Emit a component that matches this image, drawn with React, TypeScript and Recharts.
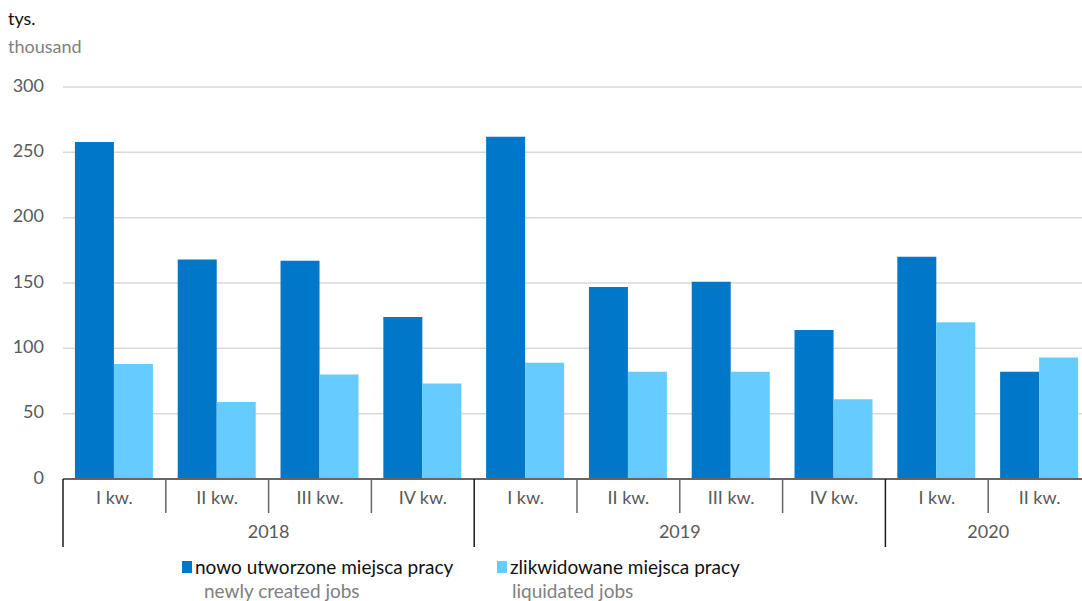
import React from "react";
import { BarChart, Bar, XAxis, YAxis, CartesianGrid } from "recharts";

const quarters = ["I kw.", "II kw.", "III kw.", "IV kw.", "I kw.", "II kw.", "III kw.", "IV kw.", "I kw.", "II kw."];
const years = ["2018", "2018", "2018", "2018", "2019", "2019", "2019", "2019", "2020", "2020"];
const created = [258, 168, 167, 124, 262, 147, 151, 114, 170, 82];
const liquidated = [88, 59, 80, 73, 89, 82, 82, 61, 120, 93];
const yTicks = [0, 50, 100, 150, 200, 250, 300];
const yearLabels = [
  { index: 1, label: "2018" },
  { index: 5, label: "2019" },
  { index: 8, label: "2020" },
];
const yearStarts = [0, 4, 8];

const data = quarters.map((q, i) => ({
  q,
  year: years[i],
  created: created[i],
  liquidated: liquidated[i],
}));

const FONT = "Lato, 'Open Sans', sans-serif";
const DARK = "#0077c8";
const LIGHT = "#66ccff";

const QuarterTick = (props: any) => {
  const { x, y, payload, index } = props;
  const half = payload && payload.offset ? payload.offset : 51.4;
  const idx = payload && typeof payload.index === "number" ? payload.index : index;
  const left = x - half;
  const isYear = yearStarts.includes(idx);
  const yl = yearLabels.find((l) => l.index === idx);
  return (
    <g>
      <line
        x1={left}
        x2={left}
        y1={y}
        y2={y + (isYear ? 68 : 34)}
        stroke={isYear ? "#1a1a1a" : "#666"}
        strokeWidth={1.5}
      />
      <text x={x} y={y + 20} textAnchor="middle" dominantBaseline="middle" fontSize={18} fill="#595959" fontFamily={FONT}>
        {payload.value}
      </text>
      {yl && (
        <text x={x + half} y={y + 54} textAnchor="middle" dominantBaseline="middle" fontSize={18} fill="#595959" fontFamily={FONT}>
          {yl.label}
        </text>
      )}
    </g>
  );
};

const YTick = (props: any) => {
  const { y, payload } = props;
  return (
    <text x={44} y={y} textAnchor="end" dominantBaseline="middle" fontSize={18} fill="#595959" fontFamily={FONT}>
      {payload.value}
    </text>
  );
};

export default function App() {
  return (
    <div style={{ position: "absolute", left: 0, top: 0, width: 1082, height: 601, overflow: "hidden", background: "#fff", fontFamily: FONT }}>
      <div style={{ position: "absolute", left: 8, top: 7, fontSize: 18, color: "#111", lineHeight: "22px" }}>tys.</div>
      <div style={{ position: "absolute", left: 8, top: 35, fontSize: 18, color: "#7f7f7f", lineHeight: "22px" }}>thousand</div>
      <BarChart
        width={1091}
        height={601}
        data={data}
        margin={{ top: 87, right: 0, left: 0, bottom: 0 }}
        barCategoryGap="11.6%"
        barGap={0}
      >
        <CartesianGrid horizontal={true} vertical={false} stroke="#d9d9d9" strokeWidth={1.5} />
        <YAxis
          width={63}
          domain={[0, 300]}
          ticks={yTicks}
          axisLine={false}
          tickLine={false}
          tick={<YTick />}
          interval={0}
        />
        <XAxis
          dataKey="q"
          height={122}
          interval={0}
          tickLine={false}
          tickSize={0}
          tickMargin={0}
          axisLine={{ stroke: "#666", strokeWidth: 2 }}
          tick={<QuarterTick />}
        />
        <Bar dataKey="created" fill={DARK} isAnimationActive={false} />
        <Bar dataKey="liquidated" fill={LIGHT} isAnimationActive={false} />
      </BarChart>
      <div style={{ position: "absolute", left: 182, top: 555, fontSize: 19, lineHeight: "24px" }}>
        <div style={{ display: "flex", alignItems: "center", color: "#111" }}>
          <span style={{ display: "inline-block", width: 10, height: 12, background: DARK, marginRight: 3 }} />
          nowo utworzone miejsca pracy
        </div>
        <div style={{ color: "#7f7f7f", marginLeft: 22 }}>newly created jobs</div>
      </div>
      <div style={{ position: "absolute", left: 497, top: 555, fontSize: 19, lineHeight: "24px" }}>
        <div style={{ display: "flex", alignItems: "center", color: "#111" }}>
          <span style={{ display: "inline-block", width: 10, height: 12, background: LIGHT, marginRight: 3 }} />
          zlikwidowane miejsca pracy
        </div>
        <div style={{ color: "#7f7f7f", marginLeft: 15 }}>liquidated jobs</div>
      </div>
    </div>
  );
}
